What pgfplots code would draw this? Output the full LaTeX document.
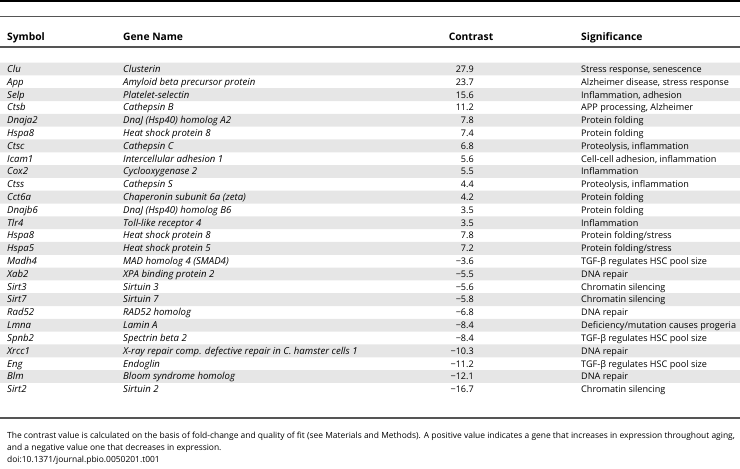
\documentclass[border=0pt]{standalone}
\usepackage{fontspec}
\setmainfont{Open Sans}
\usepackage{pgfplots}
\usepackage{pgfplotstable}
\pgfplotsset{compat=1.18}
\definecolor{band}{HTML}{E6E6E6}
\definecolor{rulegrey}{HTML}{555555}
\pgfplotstableread[col sep=semicolon]{
row;sym;gene;contrast;sig
0;Clu;Clusterin;27.9;Stress response, senescence
1;App;Amyloid beta precursor protein;23.7;Alzheimer disease, stress response
2;Selp;Platelet-selectin;15.6;Inflammation, adhesion
3;Ctsb;Cathepsin B;11.2;APP processing, Alzheimer
4;Dnaja2;DnaJ (Hsp40) homolog A2;7.8;Protein folding
5;Hspa8;Heat shock protein 8;7.4;Protein folding
6;Ctsc;Cathepsin C;6.8;Proteolysis, inflammation
7;Icam1;Intercellular adhesion 1;5.6;Cell-cell adhesion, inflammation
8;Cox2;Cyclooxygenase 2;5.5;Inflammation
9;Ctss;Cathepsin S;4.4;Proteolysis, inflammation
10;Cct6a;Chaperonin subunit 6a (zeta);4.2;Protein folding
11;Dnajb6;DnaJ (Hsp40) homolog B6;3.5;Protein folding
12;Tlr4;Toll-like receptor 4;3.5;Inflammation
13;Hspa8;Heat shock protein 8;7.8;Protein folding/stress
14;Hspa5;Heat shock protein 5;7.2;Protein folding/stress
15;Madh4;MAD homolog 4 (SMAD4);-3.6;TGF-β regulates HSC pool size
16;Xab2;XPA binding protein 2;-5.5;DNA repair
17;Sirt3;Sirtuin 3;-5.6;Chromatin silencing
18;Sirt7;Sirtuin 7;-5.8;Chromatin silencing
19;Rad52;RAD52 homolog;-6.8;DNA repair
20;Lmna;Lamin A;-8.4;Deficiency/mutation causes progeria
21;Spnb2;Spectrin beta 2;-8.4;TGF-β regulates HSC pool size
22;Xrcc1;X-ray repair comp. defective repair in C. hamster cells 1;-10.3;DNA repair
23;Eng;Endoglin;-11.2;TGF-β regulates HSC pool size
24;Blm;Bloom syndrome homolog;-12.1;DNA repair
25;Sirt2;Sirtuin 2;-16.7;Chromatin silencing
}\genes
\pgfplotstableread{
y x
69.0 740
94.6 740
120.2 740
145.9 740
171.5 740
197.1 740
222.7 740
248.4 740
274.0 740
299.6 740
325.2 740
350.9 740
376.5 740
}\bands
\def\fmtnum{\expandafter\fmtA\pgfplotspointmeta\relax}
\def\fmtA#1#2\relax{\ifx-#1\textminus\else#1\fi#2}
\begin{document}
\begin{tikzpicture}
\begin{axis}[
  scale only axis, width=740pt, height=469pt,
  xmin=0, xmax=740, ymin=0, ymax=469, y dir=reverse,
  axis lines=none, clip=false,
  font=\fontsize{9}{10}\selectfont,
]
\addplot[draw=none, forget plot] coordinates {(0,0) (740,469)};
\addplot[xbar, bar width=12.81, bar shift=0pt, fill=band, draw=none] table[x=x, y=y] {\bands};
\addplot[black, line width=1.6pt] coordinates {(0,0.8) (740,0.8)};
\addplot[rulegrey, line width=1.1pt] coordinates {(0,16.8) (740,16.8)};
\addplot[rulegrey, line width=1.1pt] coordinates {(0,47) (740,47)};
\addplot[rulegrey, line width=1.4pt] coordinates {(0,418) (740,418)};
% body text
\addplot[draw=none, mark=none, nodes near coords, point meta=explicit symbolic,
  every node near coord/.append style={anchor=base west, inner sep=0pt, font=\fontsize{9.6}{10}\selectfont\itshape}]
  table[x expr=7, y expr=72.4+12.81*\thisrow{row}, meta=sym] {\genes};
\addplot[draw=none, mark=none, nodes near coords, point meta=explicit symbolic,
  every node near coord/.append style={anchor=base west, inner sep=0pt, font=\fontsize{9.6}{10}\selectfont\itshape}]
  table[x expr=123, y expr=72.4+12.81*\thisrow{row}, meta=gene] {\genes};
\addplot[draw=none, mark=none, nodes near coords={\fmtnum}, point meta=explicit symbolic,
  every node near coord/.append style={anchor=base east, inner sep=0pt, font=\fontsize{9.1}{10}\selectfont}]
  table[x expr=474, y expr=72.4+12.81*\thisrow{row}, meta=contrast] {\genes};
\addplot[draw=none, mark=none, nodes near coords, point meta=explicit symbolic,
  every node near coord/.append style={anchor=base west, inner sep=0pt, font=\fontsize{9.1}{10}\selectfont}]
  table[x expr=581, y expr=72.4+12.81*\thisrow{row}, meta=sig] {\genes};
% header
\node[anchor=base west, inner sep=0pt, font=\fontsize{10.3}{11}\selectfont\bfseries] at (axis cs:7,40) {Symbol};
\node[anchor=base west, inner sep=0pt, font=\fontsize{10.3}{11}\selectfont\bfseries] at (axis cs:123,40) {Gene Name};
\node[anchor=base, inner sep=0pt, font=\fontsize{10.3}{11}\selectfont\bfseries] at (axis cs:471,40) {Contrast};
\node[anchor=base west, inner sep=0pt, font=\fontsize{10.3}{11}\selectfont\bfseries] at (axis cs:581,40) {Significance};
% footnote
\node[anchor=base west, inner sep=0pt, font=\fontsize{8.45}{10}\selectfont] at (axis cs:7,438.5) {The contrast value is calculated on the basis of fold-change and quality of fit (see Materials and Methods). A positive value indicates a gene that increases in expression throughout aging,};
\node[anchor=base west, inner sep=0pt, font=\fontsize{8.45}{10}\selectfont] at (axis cs:7,450.5) {and a negative value one that decreases in expression.};
\node[anchor=base west, inner sep=0pt, font=\fontsize{8.45}{10}\selectfont] at (axis cs:7,462.5) {doi:10.1371/journal.pbio.0050201.t001};
\end{axis}
\pgfresetboundingbox
\path[use as bounding box] (current axis.south west) rectangle (current axis.north east);
\end{tikzpicture}
\end{document}
